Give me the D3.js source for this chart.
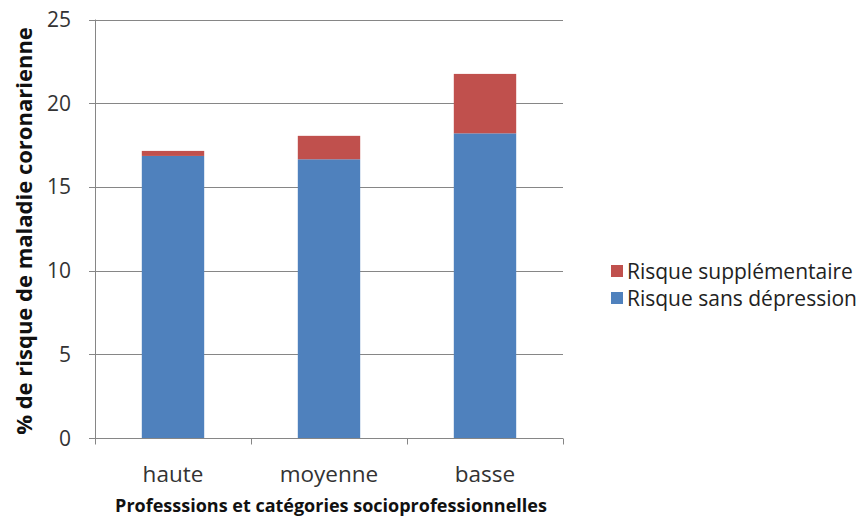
<!DOCTYPE html>
<html>
  <head>
    <title>Risque de maladie coronarienne</title>
    <style>
      body { margin: 0; background: #fff; }
      text { font-family: "Open Sans", Lato, sans-serif; }
    </style>
  </head>
  <body>
    <script src="https://d3js.org/d3.v7.min.js"></script>
    <script>

var width = 866,
    height = 526;

// data
var categories = ["haute", "moyenne", "basse"];
var sansDepression = [16.85, 16.65, 18.2];
var supplementaire = [0.3, 1.4, 3.55];
var seriesNames = ["Risque sans dépression", "Risque supplémentaire"];
var seriesColors = ["#4f81bd", "#c0504d"];
var yTicks = [0, 5, 10, 15, 20, 25];

var margin = {left: 95, right: 303, top: 19.5, bottom: 88};

var svg = d3.select("body").append("svg")
    .attr("width", width)
    .attr("height", height);

var x = d3.scaleBand()
    .domain(categories)
    .range([margin.left, width - margin.right])
    .paddingInner(0.6)
    .paddingOuter(0.3);

var y = d3.scaleLinear()
    .domain([0, 25])
    .range([height - margin.bottom, margin.top]);

// gridlines
svg.append("g")
  .selectAll("line")
  .data(yTicks)
  .enter().append("line")
    .attr("x1", margin.left - 6)
    .attr("x2", width - margin.right)
    .attr("y1", function (d) { return Math.round(y(d)) + 0.5; })
    .attr("y2", function (d) { return Math.round(y(d)) + 0.5; })
    .attr("stroke", "#868686")
    .attr("stroke-width", 1);

// stacked bars
var stack = d3.stack().keys([0, 1]);
var rows = categories.map(function (c, i) {
  return {cat: c, 0: sansDepression[i], 1: supplementaire[i]};
});
var layers = stack(rows);

svg.append("g")
  .selectAll("g")
  .data(layers)
  .enter().append("g")
    .attr("fill", function (d, i) { return seriesColors[i]; })
  .selectAll("rect")
  .data(function (d) { return d; })
  .enter().append("rect")
    .attr("x", function (d) { return x(d.data.cat); })
    .attr("width", x.bandwidth())
    .attr("y", function (d) { return y(d[1]); })
    .attr("height", function (d) { return y(d[0]) - y(d[1]); });

// y axis line
var y0 = Math.round(y(0)) + 0.5;
svg.append("line")
    .attr("x1", margin.left + 0.5).attr("x2", margin.left + 0.5)
    .attr("y1", y(25)).attr("y2", y0)
    .attr("stroke", "#868686");

// x axis line + ticks between categories
svg.append("line")
    .attr("x1", margin.left).attr("x2", width - margin.right)
    .attr("y1", y0).attr("y2", y0)
    .attr("stroke", "#868686");

var step = x.step();
svg.append("g")
  .selectAll("line")
  .data(d3.range(categories.length + 1))
  .enter().append("line")
    .attr("x1", function (i) { return Math.round(margin.left + i * step) + 0.5; })
    .attr("x2", function (i) { return Math.round(margin.left + i * step) + 0.5; })
    .attr("y1", y0)
    .attr("y2", y0 + 6)
    .attr("stroke", "#868686");

// y tick labels
svg.append("g")
  .selectAll("text")
  .data(yTicks)
  .enter().append("text")
    .attr("x", 71)
    .attr("y", function (d) { return y(d); })
    .attr("dy", "0.36em")
    .attr("text-anchor", "end")
    .attr("font-size", 21)
    .attr("fill", "#333")
    .text(function (d) { return d; });

// x tick labels
svg.append("g")
  .selectAll("text")
  .data(categories)
  .enter().append("text")
    .attr("x", function (d) { return x(d) + x.bandwidth() / 2; })
    .attr("y", 482)
    .attr("text-anchor", "middle")
    .attr("font-size", 22.5)
    .attr("fill", "#333")
    .text(function (d) { return d; });

// axis titles
svg.append("text")
    .attr("x", 331)
    .attr("y", 512)
    .attr("text-anchor", "middle")
    .attr("font-size", 18)
    .attr("font-weight", "bold")
    .attr("fill", "#111")
    .text("Professsions et catégories socioprofessionnelles");

svg.append("text")
    .attr("transform", "translate(32,231) rotate(-90)")
    .attr("text-anchor", "middle")
    .attr("font-size", 22)
    .attr("font-weight", "bold")
    .attr("fill", "#111")
    .text("% de risque de maladie coronarienne");

// legend (supplementaire on top)
var legendOrder = [1, 0];
var legend = svg.append("g")
  .selectAll("g")
  .data(legendOrder)
  .enter().append("g")
    .attr("transform", function (d, i) { return "translate(611," + (265 + i * 27) + ")"; });

legend.append("rect")
    .attr("width", 12)
    .attr("height", 12)
    .attr("fill", function (d) { return seriesColors[d]; });

legend.append("text")
    .attr("x", 16)
    .attr("y", 6)
    .attr("dy", "0.36em")
    .attr("font-size", 21)
    .attr("fill", "#222")
    .text(function (d) { return seriesNames[d]; });

    </script>
  </body>
</html>
